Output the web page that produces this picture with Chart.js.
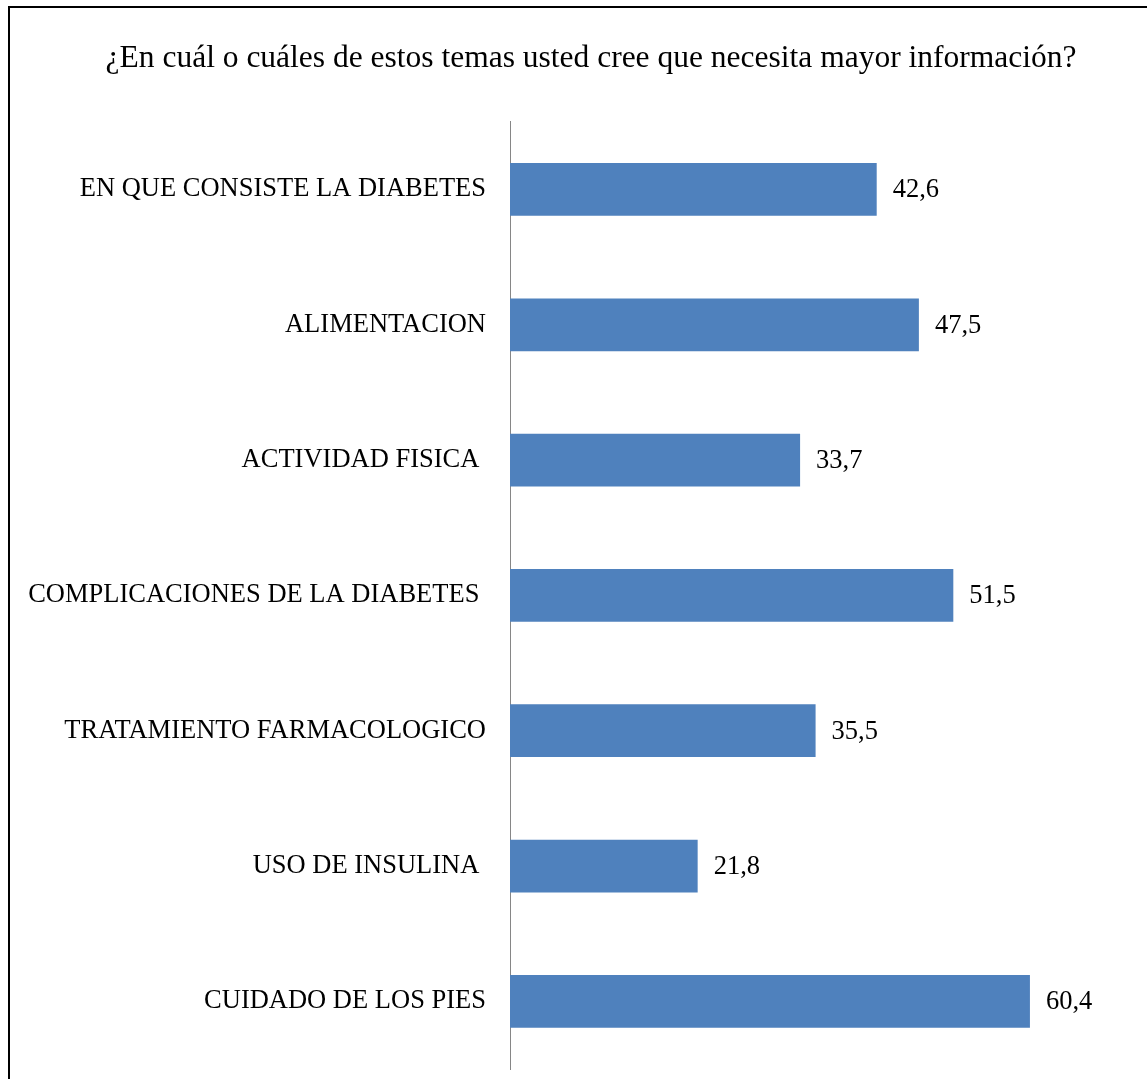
<!DOCTYPE html>
<html>
<head>
<meta charset="utf-8">
<script src="https://cdn.jsdelivr.net/npm/chart.js@4.4.0/dist/chart.umd.min.js"></script>
<style>
    html, body { margin: 0; padding: 0; background: #fff; }
    body { width: 1147px; height: 1079px; position: relative; overflow: hidden; }
    #marco {
        position: absolute; left: 8px; top: 6px; width: 1200px; height: 1120px;
        border: 2px solid #000; box-sizing: border-box;
    }
    #barChart { position: absolute; left: 0; top: 0; }
</style>
</head>
<body>
<div id="marco"></div>
<canvas id="barChart" width="1147" height="1079"></canvas>
<script>
const titulo = "¿En cuál o cuáles de estos temas usted cree que necesita mayor información?";

const temas = [
    "EN QUE CONSISTE LA DIABETES",
    "ALIMENTACION",
    "ACTIVIDAD FISICA ",
    "COMPLICACIONES DE LA DIABETES ",
    "TRATAMIENTO FARMACOLOGICO",
    "USO DE INSULINA ",
    "CUIDADO DE LOS PIES"
];

const porcentajes = [42.6, 47.5, 33.7, 51.5, 35.5, 21.8, 60.4];

const fuente = "'Liberation Serif', 'Times New Roman', serif";

// Etiqueta con el valor al final de cada barra (coma decimal)
const etiquetasValor = {
    id: "etiquetasValor",
    afterDatasetsDraw(chart) {
        const ctx = chart.ctx;
        const meta = chart.getDatasetMeta(0);
        ctx.save();
        ctx.font = "26.5px " + fuente;
        ctx.fillStyle = "#000";
        ctx.textAlign = "left";
        ctx.textBaseline = "middle";
        meta.data.forEach((bar, i) => {
            const txt = porcentajes[i].toFixed(1).replace(".", ",");
            ctx.fillText(txt, bar.x + 16, bar.y + 1);
        });
        ctx.restore();
    }
};

new Chart(document.getElementById("barChart"), {
    type: "bar",
    data: {
        labels: temas,
        datasets: [{
            data: porcentajes,
            backgroundColor: "#4F81BD",
            barPercentage: 0.39,
            categoryPercentage: 1
        }]
    },
    options: {
        indexAxis: "y",
        responsive: false,
        animation: false,
        devicePixelRatio: 1,
        // derecha negativa: el título queda centrado sobre el área de barras
        layout: { padding: { left: 0, right: -35, top: 18, bottom: 10 } },
        plugins: {
            legend: { display: false },
            tooltip: { enabled: false },
            title: {
                display: true,
                text: titulo,
                color: "#000",
                font: { family: fuente, size: 31.5, weight: "normal", lineHeight: 1.2 },
                padding: { top: 22, bottom: 44 }
            }
        },
        scales: {
            x: { display: false, min: 0, max: 74 },
            y: {
                afterFit(scale) {
                    scale.width = 510;
                    scale.paddingTop = 0;
                    scale.paddingBottom = 0;
                },
                grid: { display: false },
                border: { display: true, color: "#868686", width: 1 },
                ticks: { color: "#000", padding: 16, font: { family: fuente, size: 26.5 } }
            }
        }
    },
    plugins: [etiquetasValor]
});
</script>
</body>
</html>
